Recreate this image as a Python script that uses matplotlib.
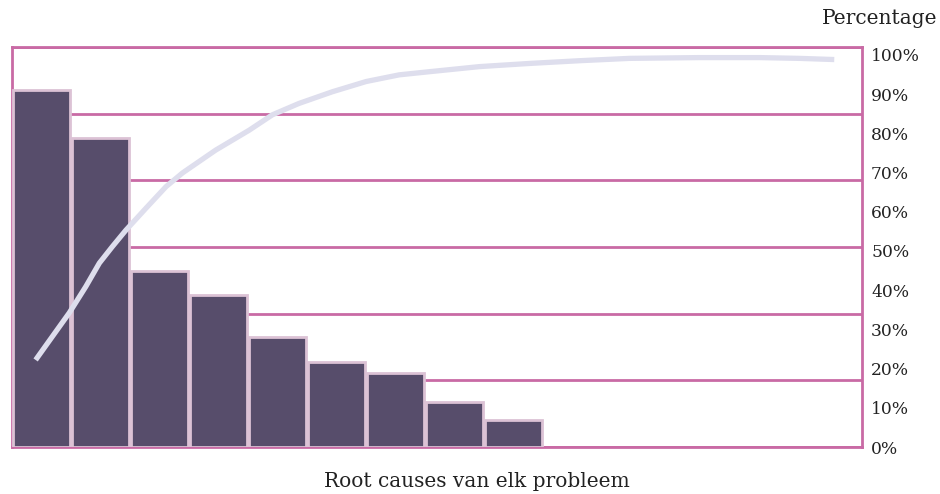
import matplotlib
matplotlib.use("Agg")
import matplotlib.pyplot as plt

# Pareto data: occurrences per root cause (sorted) and cumulative share curve
causes = ["1", "2", "3", "4", "5", "6", "7", "8", "9"]
counts = [53.5, 46.4, 26.4, 22.8, 16.5, 12.8, 11.1, 6.8, 4.05]

curve_x = [-0.10, 0.18, 0.47, 0.75, 0.98, 1.20, 1.43, 1.77, 2.11, 2.39,
           2.95, 3.52, 3.91, 4.36, 4.93, 5.50, 6.06, 6.57, 7.42, 8.26,
           9.11, 9.96, 11.14, 12.16, 12.84, 13.43]
curve_pct = [22.2, 28.1, 34.2, 40.9, 46.9, 51.1, 55.3, 60.9, 66.4, 69.9,
             75.7, 80.8, 84.7, 87.6, 90.6, 93.2, 94.9, 95.7, 97.0, 97.8,
             98.5, 99.1, 99.3, 99.3, 99.1, 98.8]

pct_ticks = [0, 10, 20, 30, 40, 50, 60, 70, 80, 90, 100]
pct_labels = [f"{t}%" for t in pct_ticks]

bar_color = "#574d6b"
bar_edge = "#dcc2d5"
grid_color = "#c96aa5"
line_color = "#dedeed"
text_color = "#222222"
font = "DejaVu Serif"

fig = plt.figure(figsize=(9.4, 4.94), dpi=100)
ax = fig.add_axes([12 / 940, 47 / 494, 850 / 940, 400 / 494])

x = list(range(len(causes)))
ax.bar(x, counts, width=0.965, color=bar_color, edgecolor=bar_edge,
       linewidth=2.0, zorder=2)
ax.set_xlim(-0.5, 13.9)
ax.set_ylim(0, 60)
ax.set_yticks([0, 10, 20, 30, 40, 50, 60])
ax.yaxis.grid(True, color=grid_color, linewidth=2.0, zorder=0)
ax.set_axisbelow(True)
for s in ax.spines.values():
    s.set_color(grid_color)
    s.set_linewidth(2.0)
    s.set_zorder(1)

ax2 = ax.twinx()
ax2.plot(curve_x, curve_pct, color=line_color, linewidth=3.8,
         solid_capstyle="butt", solid_joinstyle="round", zorder=3)
ax2.set_ylim(0, 102)
ax2.set_yticks(pct_ticks)
ax2.set_yticklabels(pct_labels, family=font, fontsize=12.3, color=text_color)
ax2.tick_params(right=False, pad=3)
for s in ax2.spines.values():
    s.set_visible(False)

ax.tick_params(left=False, bottom=False, labelleft=False, labelbottom=False)

fig.text(477 / 940, 1 - 481 / 494, "Root causes van elk probleem",
         family=font, fontsize=14.5, color=text_color, ha="center", va="center")
fig.text(880 / 940, 1 - 18 / 494, "Percentage", family=font, fontsize=14.5,
         color=text_color, ha="center", va="center")

fig.savefig("out.png", dpi=100, facecolor="white")
